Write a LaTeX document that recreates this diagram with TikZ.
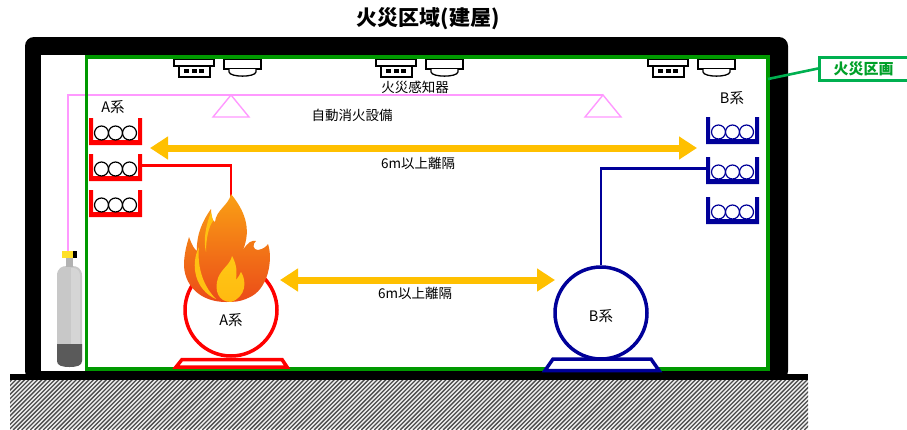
\documentclass[tikz,border=0pt]{standalone}
\usepackage{fontspec}
\setmainfont{Noto Sans CJK JP}
\usetikzlibrary{arrows.meta}

\definecolor{zonegreen}{RGB}{0,153,0}
\definecolor{tagGreen}{RGB}{0,176,80}
\definecolor{tagText}{RGB}{0,160,40}
\definecolor{pipePink}{RGB}{255,153,255}
\definecolor{gapYellow}{RGB}{255,192,0}
\definecolor{trainA}{RGB}{255,0,0}
\definecolor{trainB}{RGB}{0,0,153}
\definecolor{cylBody}{RGB}{200,200,200}
\definecolor{cylBase}{RGB}{90,90,90}
\definecolor{valveYellow}{RGB}{255,224,40}
\definecolor{flameTop}{RGB}{250,160,20}
\definecolor{flameBot}{RGB}{235,75,25}
\definecolor{flameCore}{RGB}{255,200,20}

\tikzset{
  lbl/.style={font=\fontsize{13.5}{16}\selectfont, inner sep=0},
  trainlbl/.style={font=\fontsize{14.5}{17}\selectfont, inner sep=0},
  detline/.style={draw=black, line width=1.3, fill=white},
  gaparrow/.style={draw=gapYellow, line width=7,
    {Triangle[length=18pt,width=22pt]}-{Triangle[length=18pt,width=22pt]}},
  pipe/.style={draw=pipePink, line width=2.4},
  nozzle/.style={draw=pipePink, line width=1.4},
  tank/.style={circle, line width=3.5, fill=white, minimum size=92, inner sep=0},
  feeder/.style={line width=2.4},
}

% cable tray: name, left x, top y, tray colour, cable colour
\newcommand\cabletray[5]{%
  \fill[#4] (#2,#3) -- (#2,#3+27) -- (#2+53,#3+27) -- (#2+53,#3) -- (#2+49,#3)
    -- (#2+49,#3+22) -- (#2+4,#3+22) -- (#2+4,#3) -- cycle;
  \foreach \k in {12.5,26.5,40.5}
    \draw[#5, line width=1.2, fill=white] (#2+\k,#3+15) circle (7);
  \coordinate (#1-w) at (#2,#3+11.5);
  \coordinate (#1-e) at (#2+53,#3+11.5);
}

% ceiling detectors: box type and dome type side by side
\newcommand\detectorpair[1]{%
  \begin{scope}[shift={(#1,0)}]
    \draw[detline] (0,59) rectangle (40,66);
    \draw[detline] (5,66) rectangle (36,77);
    \fill (10,69) rectangle (15,73);
    \fill (17.5,69) rectangle (22.5,73);
    \fill (25,69) rectangle (30,73);
    \draw[detline] (50,59) rectangle (87,69);
    \draw[detline] (55,69) -- (55,72) .. controls (56,77.5) and (81,77.5) .. (82,72) -- (82,69);
  \end{scope}}

\begin{document}
\begin{tikzpicture}[x=1pt,y=-1pt]
\useasboundingbox (0,0) rectangle (907,429);
\fill[white] (0,0) rectangle (907,429);

% title
\node[font=\bfseries\fontsize{21}{24}\selectfont, inner sep=0] (title) at (428,19) {火災区域(建屋)};

% building shell and floor
\fill[black, rounded corners=9] (25,37) rectangle (788,380);
\fill[white] (41,55) rectangle (770,371);
\fill[black] (10,374) rectangle (808,380);

% ground hatching
\begin{scope}
  \clip (10,380) rectangle (808,429);
  \fill[gray!12] (10,380) rectangle (808,429);
  \foreach \a in {-60,-55.7,...,812}
    \draw[black!70, line width=1.3] (\a,430) -- (\a+52,378);
\end{scope}

% ceiling detectors
\detectorpair{174}
\detectorpair{376}
\detectorpair{648}

% extinguishing gas cylinder
\fill[cylBody] (57,360) -- (57,276) .. controls (57,268) and (62,266) .. (67,266)
  -- (72,266) .. controls (77,266) and (82,268) .. (82,276) -- (82,360) -- cycle;
\fill[white, opacity=0.25] (71,268) -- (71,344) -- (80,344) -- (80,276) .. controls (80,271) and (77,268) .. (73,268) -- cycle;
\fill[cylBase] (57,344) -- (82,344) -- (82,361) .. controls (82,365.5) and (77,367) .. (69.5,367)
  .. controls (62,367) and (57,365.5) .. (57,361) -- cycle;
\fill[gray!60] (66,257) rectangle (73,267);
\fill[valveYellow] (62,251) rectangle (74,258);
\fill[black] (73,251) rectangle (77,258);
\coordinate (valve) at (68,251);

% sprinkler pipe and nozzles
\coordinate (pipeCorner) at (68,95);
\coordinate (nozzle1) at (231,95);
\coordinate (nozzle2) at (603,95);
\draw[pipe] (valve) -- (pipeCorner) -- (nozzle2);
\draw[nozzle] (nozzle1) -- (213,117) -- (249,117) -- cycle;
\draw[nozzle] (nozzle2) -- (585,117) -- (621,117) -- cycle;

% fire zone boundary
\draw[zonegreen, line width=3.8] (86.5,57) rectangle (768,369);

% cable trays
\cabletray{trayA1}{89}{118}{trainA}{black}
\cabletray{trayA2}{89}{154}{trainA}{black}
\cabletray{trayA3}{89}{190}{trainA}{black}
\cabletray{trayB1}{706}{117}{trainB}{trainB}
\cabletray{trayB2}{706}{157}{trainB}{trainB}
\cabletray{trayB3}{706}{197}{trainB}{trainB}
\node[trainlbl] (labA) at (113,107) {A系};
\node[trainlbl] (labB) at (732,98) {B系};

% equipment of train A
\draw[trainA, line width=3.5, fill=white] (182,359.5) -- (282,359.5) -- (287,367) -- (176,367) -- cycle;
\node[tank, draw=trainA] (tankA) at (231,310) {};
\draw[trainA, feeder] (trayA2-e) -| (tankA.north);
\node[trainlbl] (tankAtxt) at (231,320) {A系};

% equipment of train B
\node[tank, draw=trainB] (tankB) at (601,313) {};
\draw[trainB, line width=3.5, fill=white] (553,359) -- (651,359) -- (659,370.5) -- (545,370.5) -- cycle;
\draw[trainB, feeder] (trayB2-w) -| (tankB.north);
\node[trainlbl] (tankBtxt) at (601,316) {B系};

% fire
\shade[top color=flameTop, bottom color=flameBot]
  (226,302) .. controls (200,302) and (183,285) .. (184,262)
  .. controls (185,250) and (187,244) .. (189,237)
  .. controls (192,245) and (194,249) .. (197,251)
  .. controls (196,235) and (203,220) .. (211,209)
  .. controls (211,216) and (212,220) .. (215,222)
  .. controls (216,210) and (229,205) .. (231,194)
  .. controls (244,210) and (252,228) .. (243,250)
  .. controls (248,242) and (252,240) .. (256,241)
  .. controls (252,244) and (253,250) .. (258,250)
  .. controls (263,249) and (266,247) .. (268,244)
  .. controls (273,258) and (269,290) .. (248,298)
  .. controls (240,302) and (232,302) .. (226,302) -- cycle;
\fill[flameCore!90!orange]
  (199,247) .. controls (190,265) and (195,290) .. (216,299)
  .. controls (203,286) and (197,267) .. (199,247) -- cycle;
\fill[flameCore!90!orange]
  (211,212) .. controls (206,225) and (203,240) .. (206,252)
  .. controls (206,238) and (209,226) .. (213,221) -- cycle;
\shade[top color=flameCore, bottom color=flameCore!80!orange]
  (231,302) .. controls (218,302) and (214,290) .. (218,278)
  .. controls (222,268) and (230,265) .. (232,256)
  .. controls (237,265) and (237,272) .. (236,280)
  .. controls (238,277) and (240,275) .. (241,272)
  .. controls (247,281) and (246,297) .. (231,302) -- cycle;

% separation arrows
\coordinate (gapTopL) at (150,148);
\coordinate (gapTopR) at (697,148);
\coordinate (gapLowL) at (280,280);
\coordinate (gapLowR) at (555,280);
\draw[gaparrow] (gapTopL) -- (gapTopR);
\draw[gaparrow] (gapLowL) -- (gapLowR);
\node[lbl] (gapTopTxt) at (418,163) {6m以上離隔};
\node[lbl] (gapLowTxt) at (415,293) {6m以上離隔};

% labels
\node[lbl] (detTxt) at (415,87) {火災感知器};
\node[lbl] (sysTxt) at (352,115) {自動消火設備};

% fire zone tag
\node[draw=tagGreen, line width=3, fill=white, minimum width=100, minimum height=23, inner sep=0,
      anchor=west, text=tagText, font=\bfseries\fontsize{15}{17}\selectfont] (zoneTag) at (818,68.5) {\hspace*{-12pt}火災区画};
\coordinate (zoneEdge) at (768,79);
\draw[tagGreen, line width=2.6] (zoneEdge) -- (zoneTag.west);
\end{tikzpicture}
\end{document}
